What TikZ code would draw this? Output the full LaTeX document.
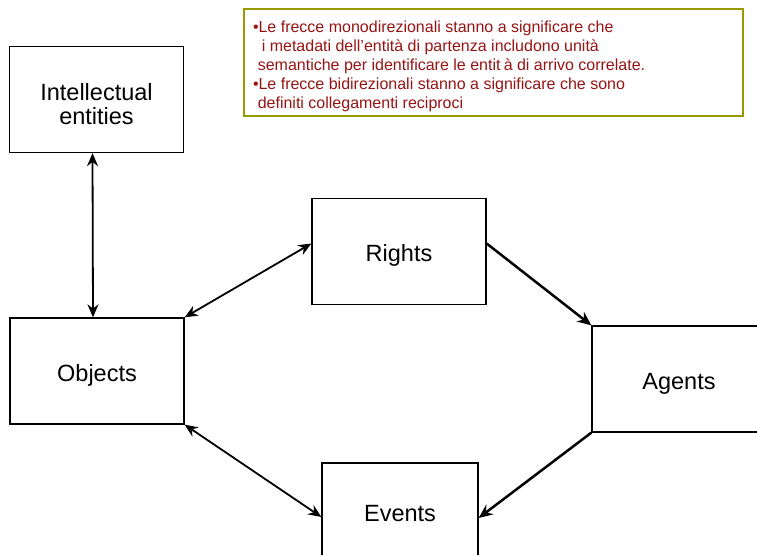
\documentclass[tikz,border=0pt]{standalone}
\usepackage{fontspec}
\setmainfont{Liberation Sans}
\usetikzlibrary{arrows.meta,calc}
\definecolor{notered}{RGB}{150,20,20}
\definecolor{noteolive}{RGB}{153,153,0}
% lowers a (possibly multi-line) label without changing its reported size
\newcommand{\boxlabel}[2][5bp]{\raisebox{-#1}[\height][\depth]{\begin{tabular}{@{}c@{}}#2\end{tabular}}}
\begin{document}
\begin{tikzpicture}[x=1bp,y=-1bp,
  entity/.style={draw, line width=1.3bp, inner sep=0pt, align=center,
    minimum width=174bp, minimum height=106bp,
    font=\fontsize{23.5bp}{23bp}\selectfont},
  biarrow/.style={line width=1.8bp,
    {Stealth[length=13bp,width=11bp]}-{Stealth[length=13bp,width=11bp]}},
  monoarrow/.style={line width=2.5bp, -{Stealth[length=14bp,width=12bp]}},
  notebox/.style={draw=noteolive, line width=2bp, text=notered,
    inner xsep=9bp, inner ysep=0pt, minimum width=499bp,
    minimum height=107bp, font=\fontsize{16bp}{19bp}\selectfont}]
\useasboundingbox (0,0) rectangle (757,555);
\clip (0,0) rectangle (757,555);

% entity boxes
\node[entity] (intel) at (96.5,99.5) {\boxlabel[8bp]{Intellectual\\entities}};
\node[entity] (objects) at (97,371) {\boxlabel{Objects}};
\node[entity] (rights) at (399,251.5) {\boxlabel{Rights}};
\node[entity] (agents) at (679,379) {\boxlabel[6bp]{Agents}};
\node[entity, minimum width=156bp, minimum height=100bp] (events) at (400,513) {\boxlabel[4bp]{Events}};

% legend
\node[notebox] (note) at (493.5,62.5) {\raisebox{-4bp}[\height][\depth]{\makebox[481bp][l]{%
\begin{tabular}{@{}l@{}}
\textbullet Le frecce monodirezionali stanno a significare che\\
\hspace*{0.55em}i metadati dell’entità di partenza includono unità\\
\hspace*{0.3em}semantiche per identificare le entit\hspace{0.2em}à di arrivo correlate.\\
\textbullet Le frecce bidirezionali stanno a significare che sono\\
\hspace*{0.3em}definiti collegamenti reciproci
\end{tabular}}}};

% connectors
\draw[biarrow] ([xshift=-4bp]intel.south) -- ([xshift=-4bp]objects.north);
\draw[biarrow] (objects.north east) -- ($(rights.west)+(0,-8)$);
\draw[monoarrow] ($(rights.east)+(0,-8)$) -- (agents.north west);
\draw[monoarrow] (agents.south west) -- ($(events.east)+(0,5)$);
\draw[biarrow] (objects.south east) -- ($(events.west)+(0,4)$);
\end{tikzpicture}
\end{document}
